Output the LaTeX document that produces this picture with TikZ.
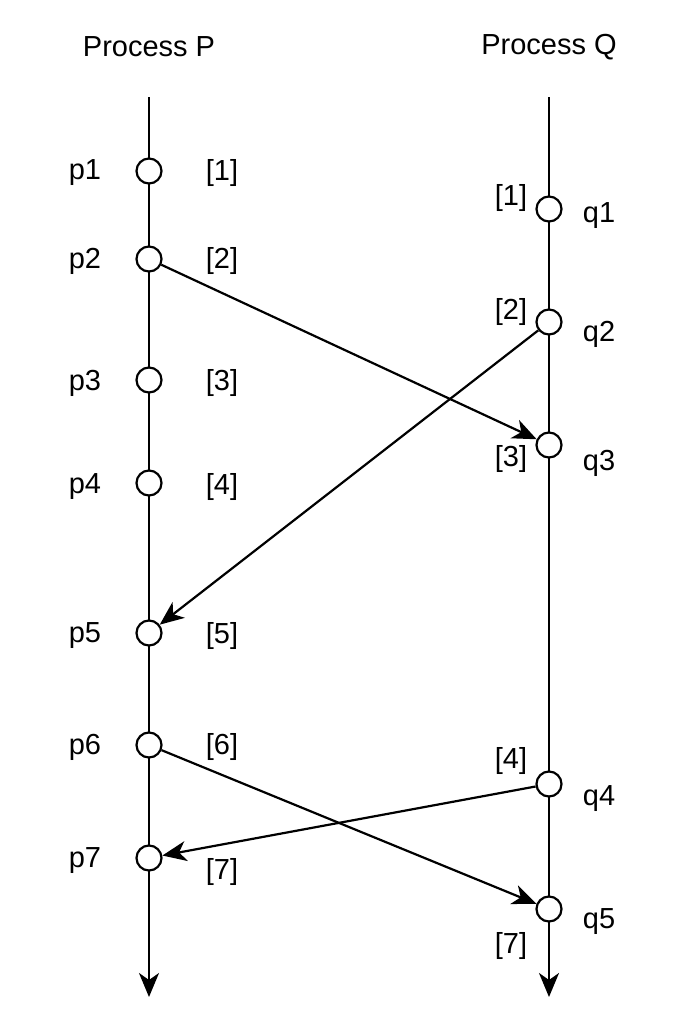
\documentclass[tikz,border=0pt]{standalone}
\usepackage{fontspec}
\setmainfont{Liberation Sans}
\usetikzlibrary{arrows.meta}
\begin{document}
\begin{tikzpicture}[x=1pt,y=-1pt,
  ev/.style={circle,draw,line width=2.2pt,fill=white,minimum size=25pt,inner sep=0pt},
  lbl/.style={font=\fontsize{29}{32}\selectfont,inner sep=0pt},
  msg/.style={line width=2.2pt,-{Stealth[length=24pt,width=20pt,inset=7pt]}},
  life/.style={line width=2.2pt,-{Stealth[length=24pt,width=20pt,inset=7pt]}}]
\useasboundingbox (0,0) rectangle (680,1034);
\node[lbl] (tP) at (149,47) {Process P};
\node[lbl] (tQ) at (549,47) {Process Q};
\coordinate (Ptop) at (149,97);
\coordinate (Pbot) at (149,997);
\coordinate (Qtop) at (549,97);
\coordinate (Qbot) at (549,997);
\draw[life] (Ptop) -- (Pbot);
\draw[life] (Qtop) -- (Qbot);
% P events
\foreach \n/\y in {1/171,2/259,3/380,4/483,5/633,6/745,7/858}{
  \node[ev] (p\n) at (149,\y) {};
}
\node[lbl] (lp1) at (85,173) {p1};
\node[lbl] (lp2) at (85,261) {p2};
\node[lbl] (lp3) at (85,383) {p3};
\node[lbl] (lp4) at (85,487) {p4};
\node[lbl] (lp5) at (85,636) {p5};
\node[lbl] (lp6) at (85,747) {p6};
\node[lbl] (lp7) at (85,861) {p7};
\node[lbl] (bp1) at (222,173) {[1]};
\node[lbl] (bp2) at (222,261) {[2]};
\node[lbl] (bp3) at (222,383) {[3]};
\node[lbl] (bp4) at (222,487) {[4]};
\node[lbl] (bp5) at (222,636) {[5]};
\node[lbl] (bp6) at (222,747) {[6]};
\node[lbl] (bp7) at (222,872) {[7]};
% Q events
\foreach \n/\y in {1/209,2/322,3/445,4/784,5/909}{
  \node[ev] (q\n) at (549,\y) {};
}
\node[lbl] (lq1) at (599,216) {q1};
\node[lbl] (lq2) at (599,334) {q2};
\node[lbl] (lq3) at (599,463) {q3};
\node[lbl] (lq4) at (599,799) {q4};
\node[lbl] (lq5) at (599,922) {q5};
\node[lbl] (bq1) at (511,198) {[1]};
\node[lbl] (bq2) at (511,312) {[2]};
\node[lbl] (bq3) at (511,459) {[3]};
\node[lbl] (bq4) at (511,761) {[4]};
\node[lbl] (bq5) at (511,946) {[7]};
% messages
\draw[msg] (p2) -- (q3);
\draw[msg] (q2) -- (p5);
\draw[msg] (p6) -- (q5);
\draw[msg] (q4) -- (p7);
\end{tikzpicture}
\end{document}
